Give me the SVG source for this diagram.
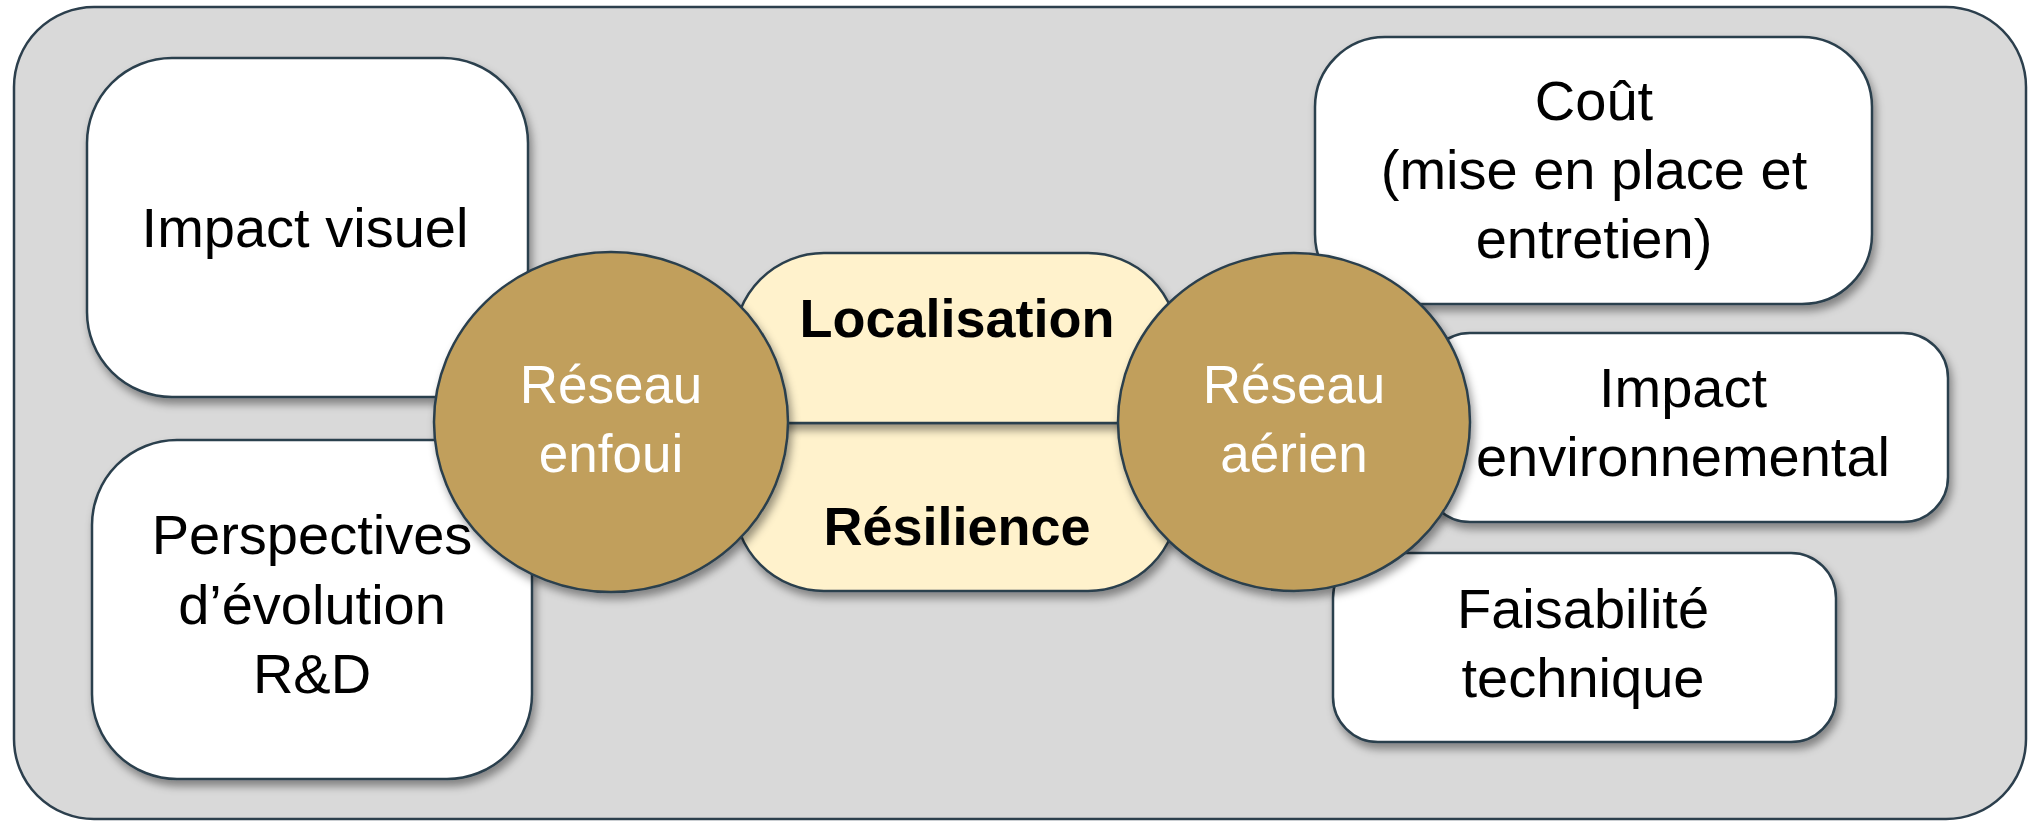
<svg xmlns="http://www.w3.org/2000/svg" width="2030" height="822" viewBox="0 0 2030 822">
<defs>
<filter id="sh" x="-10%" y="-10%" width="125%" height="130%">
<feDropShadow dx="3" dy="6" stdDeviation="4" flood-color="#000" flood-opacity="0.4"/>
</filter>
<style>
.frame{fill:#d9d9d9;stroke:#2c3f4d;stroke-width:2.5}
.box{fill:#ffffff;stroke:#2c3f4d;stroke-width:2.5;filter:url(#sh)}
.pill{fill:#fff2cc;stroke:#2c3f4d;stroke-width:2.5;filter:url(#sh)}
.hub{fill:#c19f5c;stroke:#2c3f4d;stroke-width:2.5;filter:url(#sh)}
.t{font-family:"Liberation Sans",Arial,sans-serif;font-size:56px;fill:#000;text-anchor:middle}
.b{font-family:"Liberation Sans",Arial,sans-serif;font-size:54px;font-weight:bold;fill:#000;text-anchor:middle}
.w{font-family:"Liberation Sans",Arial,sans-serif;font-size:53px;fill:#fff;text-anchor:middle}
</style>
</defs>
<rect class="frame" x="14" y="7" width="2012" height="812" rx="80"/>
<g id="connectors"></g>
<g id="impact-visuel">
<rect class="box" x="87" y="58" width="441" height="339" rx="85"/>
<text class="t" x="305" y="247">Impact visuel</text>
</g>
<g id="perspectives">
<rect class="box" x="92" y="440" width="440" height="339" rx="85"/>
<text class="t" x="312" y="554">Perspectives</text>
<text class="t" x="312" y="624">d’évolution</text>
<text class="t" x="312" y="693">R&amp;D</text>
</g>
<g id="cout">
<rect class="box" x="1315" y="37" width="557" height="267" rx="70"/>
<text class="t" x="1594" y="120">Coût</text>
<text class="t" x="1594" y="189">(mise en place et</text>
<text class="t" x="1594" y="258">entretien)</text>
</g>
<g id="impact-env">
<rect class="box" x="1425" y="333" width="523" height="189" rx="45"/>
<text class="t" x="1683" y="407">Impact</text>
<text class="t" x="1683" y="476">environnemental</text>
</g>
<g id="faisabilite">
<rect class="box" x="1333" y="553" width="503" height="189" rx="45"/>
<text class="t" x="1583" y="628">Faisabilité</text>
<text class="t" x="1583" y="697">technique</text>
</g>
<g id="resilience">
<path class="pill" d="M734 423 H1178 V501 A90 90 0 0 1 1088 591 H824 A90 90 0 0 1 734 501 Z"/>
<text class="b" x="957" y="545">Résilience</text>
</g>
<g id="localisation">
<path class="pill" d="M734 423 V343 A90 90 0 0 1 824 253 H1088 A90 90 0 0 1 1178 343 V423 Z"/>
<text class="b" x="957" y="337">Localisation</text>
</g>
<g id="reseau-enfoui">
<ellipse class="hub" cx="611" cy="422" rx="177" ry="170"/>
<text class="w" x="611" y="403">Réseau</text>
<text class="w" x="611" y="472">enfoui</text>
</g>
<g id="reseau-aerien">
<ellipse class="hub" cx="1294" cy="422" rx="176" ry="169"/>
<text class="w" x="1294" y="403">Réseau</text>
<text class="w" x="1294" y="472">aérien</text>
</g>
</svg>
